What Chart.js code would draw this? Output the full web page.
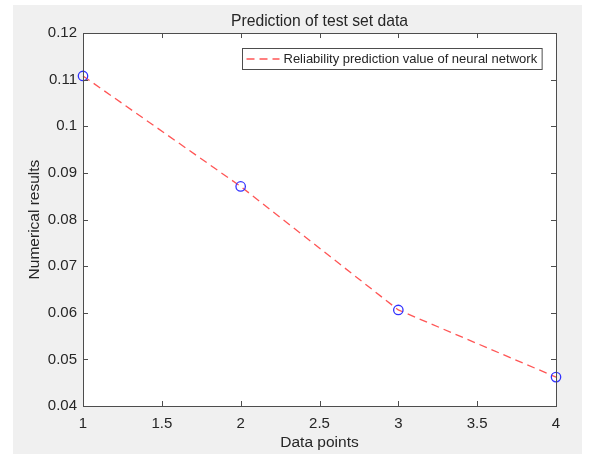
<!DOCTYPE html>
<html>
<head>
<meta charset="utf-8">
<script src="https://cdn.jsdelivr.net/npm/chart.js@4.4.1/dist/chart.umd.min.js"></script>
<style>
  html, body { margin: 0; padding: 0; background: #ffffff; }
  #wrap { width: 589px; height: 454px; }
</style>
</head>
<body>
<div id="wrap"><canvas id="predChart" width="589" height="454"></canvas></div>
<script>
// values
const dataPoints = [1, 2, 3, 4];
const predicted = [0.1108, 0.0871, 0.0606, 0.0462];
const xTicks = [1, 1.5, 2, 2.5, 3, 3.5, 4];
const yTicks = [0.04, 0.05, 0.06, 0.07, 0.08, 0.09, 0.10, 0.11, 0.12];

const FONT = '"Liberation Sans", Arial, Helvetica, sans-serif';
const TEXT = '#262626';
const AXIS = '#4d4d4d';

// matlab-ish figure: grey backdrop, white axes, box with inward ticks, boxed legend
const matlabLook = {
    id: 'matlabLook',
    beforeDraw(chart) {
        const c = chart.ctx, a = chart.chartArea;
        c.save();
        c.fillStyle = '#f0f0f0';
        c.fillRect(13, 5, 569, 449);
        c.fillStyle = '#ffffff';
        c.fillRect(a.left, a.top, a.right - a.left, a.bottom - a.top);
        c.restore();
    },
    afterDatasetsDraw(chart) {
        const c = chart.ctx, a = chart.chartArea;
        const xs = chart.scales.x, ys = chart.scales.y;
        const tl = 5;
        c.save();
        c.strokeStyle = AXIS;
        c.lineWidth = 1;
        c.beginPath();
        xTicks.forEach(v => {
            const px = Math.round(xs.getPixelForValue(v)) + 0.5;
            c.moveTo(px, a.bottom); c.lineTo(px, a.bottom - tl);
            c.moveTo(px, a.top); c.lineTo(px, a.top + tl);
        });
        yTicks.forEach(v => {
            const py = Math.round(ys.getPixelForValue(v)) + 0.5;
            c.moveTo(a.left, py); c.lineTo(a.left + tl, py);
            c.moveTo(a.right, py); c.lineTo(a.right - tl, py);
        });
        c.stroke();
        c.strokeRect(Math.round(a.left) + 0.5, Math.round(a.top) + 0.5,
            Math.round(a.right - a.left), Math.round(a.bottom - a.top));

        // legend
        const ds = chart.data.datasets[0];
        c.font = '13px ' + FONT;
        const tw = c.measureText(ds.label).width;
        const bx = 242.5, by = 48.5, bh = 21;
        const bw = 41 + tw + 5;
        c.fillStyle = '#ffffff';
        c.fillRect(bx, by, bw, bh);
        c.strokeStyle = AXIS;
        c.strokeRect(bx, by, bw, bh);
        c.strokeStyle = ds.borderColor;
        c.lineWidth = ds.borderWidth;
        c.setLineDash(ds.borderDash);
        c.beginPath();
        c.moveTo(bx + 4, by + bh / 2);
        c.lineTo(bx + 37, by + bh / 2);
        c.stroke();
        c.setLineDash([]);
        c.fillStyle = TEXT;
        c.textBaseline = 'middle';
        c.textAlign = 'left';
        c.fillText(ds.label, bx + 41, by + bh / 2 + 0.5);
        c.restore();
    }
};

const ctx = document.getElementById('predChart');
const predChart = new Chart(ctx, {
    type: 'line',
    data: {
        datasets: [{
            label: 'Reliability prediction value of neural network',
            data: dataPoints.map((x, i) => ({x: x, y: predicted[i]})),
            borderColor: 'rgb(255, 85, 85)',
            borderWidth: 1.3,
            borderDash: [8, 5],
            pointStyle: 'circle',
            pointRadius: 4.7,
            pointBorderColor: 'rgb(50, 50, 255)',
            pointBackgroundColor: 'rgba(0,0,0,0)',
            pointBorderWidth: 1.3,
            tension: 0,
            fill: false,
            clip: false
        }]
    },
    plugins: [matlabLook],
    options: {
        responsive: false,
        animation: false,
        events: [],
        layout: { padding: { left: 0, right: 33, top: 0, bottom: 0 } },
        plugins: {
            legend: { display: false },
            tooltip: { enabled: false },
            title: {
                display: true,
                fullSize: false,
                text: 'Prediction of test set data',
                color: TEXT,
                font: { family: FONT, size: 15.7, weight: 'normal' },
                padding: { top: 12.5, bottom: 1.7 }
            }
        },
        scales: {
            x: {
                type: 'linear',
                min: 1, max: 4,
                afterBuildTicks: s => { s.ticks = xTicks.map(v => ({value: v})); },
                afterFit: s => { s.height = 48; },
                grid: { display: false, drawTicks: false },
                border: { display: false },
                ticks: {
                    color: TEXT, padding: 9,
                    font: { family: FONT, size: 15 },
                    callback: v => String(v)
                },
                title: {
                    display: true, text: 'Data points', color: TEXT,
                    font: { family: FONT, size: 15.5 },
                    padding: { top: 0, bottom: 2 }
                }
            },
            y: {
                min: 0.04, max: 0.12,
                afterBuildTicks: s => { s.ticks = yTicks.map(v => ({value: v})); },
                afterFit: s => { s.width = 83; },
                grid: { display: false, drawTicks: false },
                border: { display: false },
                ticks: {
                    color: TEXT, padding: 6,
                    font: { family: FONT, size: 15 },
                    callback: v => String(Number(v.toFixed(2)))
                },
                title: {
                    display: true, text: 'Numerical results', color: TEXT,
                    font: { family: FONT, size: 15.5 },
                    padding: { top: 25, bottom: 0 }
                }
            }
        }
    }
});
</script>
</body>
</html>
